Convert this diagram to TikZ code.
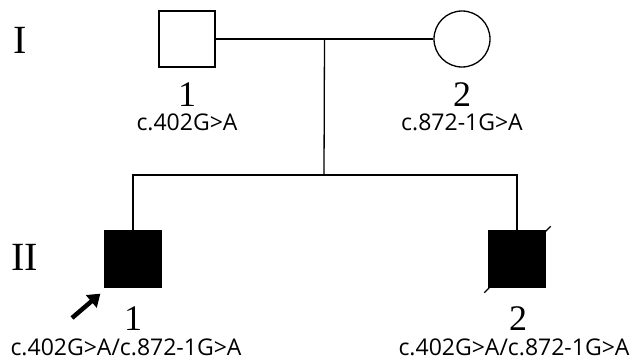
\documentclass[tikz,border=0pt]{standalone}
\usepackage{fontspec}
\setmainfont{Liberation Serif}
\newfontfamily\genefont{Open Sans}
\usepackage{tikz}
\usetikzlibrary{calc,arrows.meta}

\tikzset{
  male/.style={draw, rectangle, line width=1.3pt, minimum size=56pt, inner sep=0pt},
  female/.style={draw, circle, line width=1.3pt, minimum size=56pt, inner sep=0pt},
  affected/.style={male, fill=black},
  gen/.style={font=\fontsize{40}{40}\selectfont, inner sep=0pt},
  num/.style={font=\fontsize{36}{36}\selectfont, anchor=base, inner sep=0pt},
  geno/.style={font=\genefont\fontsize{23}{24}\selectfont, anchor=base, inner sep=0pt},
  link/.style={line width=1.3pt}
}

\begin{document}
\begin{tikzpicture}[x=1pt, y=1pt]
    \useasboundingbox (0,0) rectangle (638,360);
    \node(G1) [gen] at (20,320){I};
    \node(G2) [gen] at (25,103){II};

    \node(F) [male] at (187,321){};
    \node(M) [female] at (462,321){};
    \coordinate(mid) at ($(F)!0.5!(M)$);
    \coordinate(sib) at (324,185);

    \node(P1) [affected] at (133,101){};
    \node(P2) [affected] at (517,101){};

    \node(Fn) [num] at (187,254){1};
    \node(Fg) [geno] at (187,230){c.402G>A};
    \node(Mn) [num] at (462,254){2};
    \node(Mg) [geno] at (462,230){c.872-1G>A};
    \node(P1n) [num] at (133,30){1};
    \node(P1g) [geno] at (126,5){c.402G>A/c.872-1G>A};
    \node(P2n) [num] at (518,30){2};
    \node(P2g) [geno] at (514,5){c.402G>A/c.872-1G>A};

    \coordinate(arr) at (72,42);
    \coordinate(d1) at ($(P2.south west)+(-4,-5)$);
    \coordinate(d2) at ($(P2.north east)+(5,4)$);

    \draw[link] (F) -- (M);
    \draw[link] (mid) -- (sib);
    \draw[link] (P1) |- (sib) -| (P2);
    \draw[link] (d1) -- (d2);
    \draw[line width=4.5pt, -{Triangle[length=12pt, width=16pt]}] (arr) -- ($(P1.south west)+(-4,-6)$);
  \end{tikzpicture}
\end{document}
